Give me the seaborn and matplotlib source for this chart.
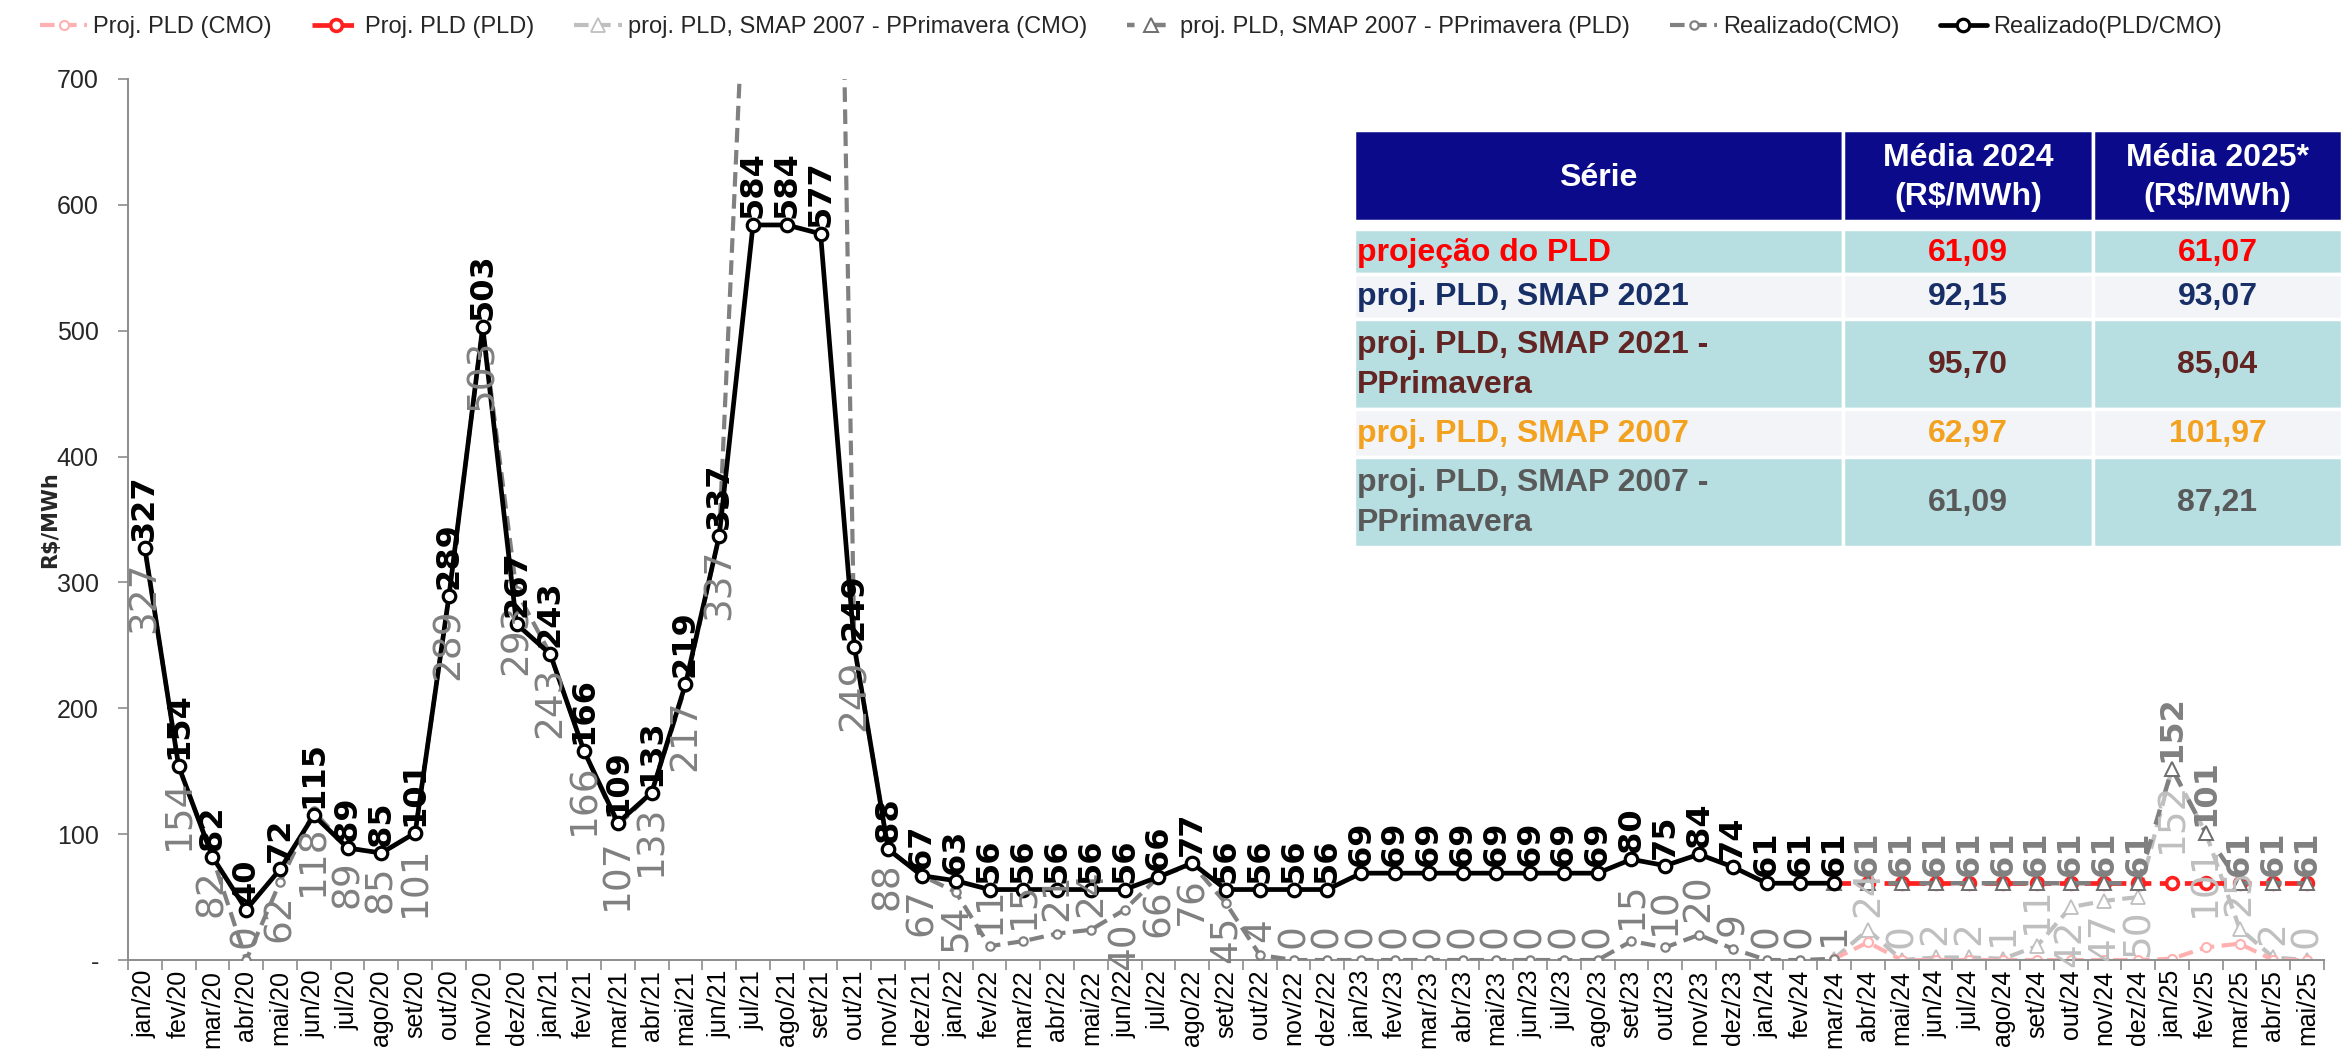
import numpy as np
import pandas as pd
import matplotlib
matplotlib.use("Agg")
import matplotlib.pyplot as plt
from matplotlib import font_manager
from matplotlib.patches import Rectangle
from matplotlib.ticker import FixedLocator, FixedFormatter
import seaborn as sns

# ---------------------------------------------------------------- dados
MESES = ["jan", "fev", "mar", "abr", "mai", "jun", "jul", "ago", "set", "out", "nov", "dez"]
ANOS = ["20", "21", "22", "23", "24", "25"]
categorias = [f"{m}/{a}" for a in ANOS for m in MESES][:65]

# Realizado, jan/20 a mar/24
realizado_pld_cmo = [327, 154, 82, 40, 72, 115, 89, 85, 101, 289, 503, 267,
                     243, 166, 109, 133, 219, 337, 584, 584, 577, 249, 88, 67,
                     63, 56, 56, 56, 56, 56, 66, 77, 56, 56, 56, 56,
                     69, 69, 69, 69, 69, 69, 69, 69, 80, 75, 84, 74,
                     61, 61, 61]
realizado_cmo = [327, 154, 82, 0, 62, 118, 89, 85, 101, 289, 503, 293,
                 243, 166, 107, 133, 217, 337, 940, 1400, 1800, 249, 88, 67,
                 54, 11, 15, 21, 24, 40, 66, 76, 45, 4, 0, 0,
                 0, 0, 0, 0, 0, 0, 0, 0, 15, 10, 20, 9,
                 0, 0, 1]

# Projeções, mar/24 a mai/25
inicio_proj = 50
proj_pld_pld = [61, 61, 61, 61, 61, 61, 61, 61, 61, 61, 61, 61, 61, 61, 61]
proj_pld_cmo = [1, 14, 0, 0, 0, 0, 0, 0, 0, 0, 1, 10, 13, 0, 0]
proj_s07pp_cmo = [1, 24, 0, 2, 2, 1, 11, 42, 47, 50, 152, 101, 25, 2, 0]
proj_s07pp_pld = [61, 61, 61, 61, 61, 61, 61, 61, 61, 61, 152, 101, 61, 61, 61]

y_ticks = [0, 100, 200, 300, 400, 500, 600, 700]
y_tick_labels = ["-", "100", "200", "300", "400", "500", "600", "700"]

# Tabela de médias
tab_series = ["projeção do PLD", "proj. PLD, SMAP 2021", "proj. PLD, SMAP 2021 -\nPPrimavera",
              "proj. PLD, SMAP 2007", "proj. PLD, SMAP 2007 -\nPPrimavera"]
tab_media_2024 = ["61,09", "92,15", "95,70", "62,97", "61,09"]
tab_media_2025 = ["61,07", "93,07", "85,04", "101,97", "87,21"]
tab_cabecalho = ["Série", "Média 2024\n(R$/MWh)", "Média 2025*\n(R$/MWh)"]
tab_cores_texto = ["#FF0000", "#172F66", "#632523", "#F2A21E", "#595959"]


# ---------------------------------------------------------------- fontes
def primeira_fonte(*nomes):
    for nome in nomes:
        try:
            font_manager.findfont(font_manager.FontProperties(family=nome),
                                  fallback_to_default=False)
            return nome
        except ValueError:
            continue
    return "DejaVu Sans"


sns.set_theme(style="white")
ESTREITA = primeira_fonte("Liberation Sans Narrow", "Liberation Sans")
plt.rcParams["font.family"] = ["DejaVu Sans"]

# ---------------------------------------------------------------- figura
fig = plt.figure(figsize=(23.48, 10.5), dpi=100)
ax = fig.add_axes([0.0545, 0.0857, 0.9353, 0.8391])

x_real = np.arange(len(realizado_pld_cmo))
x_proj = np.arange(inicio_proj, inicio_proj + len(proj_pld_pld))

CINZA = "#808080"
CINZA_CLARO = "#BFBFBF"
VERMELHO = "#FF2020"
ROSA = "#FFB0B0"


def linha(x, y, rotulo, cor, estilo, marcador, ms, mec, mew, lw, z):
    df = pd.DataFrame({"x": x, "y": y})
    sns.lineplot(data=df, x="x", y="y", ax=ax, color=cor, linestyle=estilo,
                 marker=marcador, markersize=ms, markerfacecolor="white",
                 markeredgecolor=mec, markeredgewidth=mew, linewidth=lw,
                 zorder=z, label=rotulo, errorbar=None)


linha(x_proj, proj_pld_cmo, "Proj. PLD (CMO)", ROSA, (0, (3.5, 1.8)), "o", 6.5, ROSA, 1.5, 3.0, 2.5)
linha(x_proj, proj_s07pp_cmo, "proj. PLD, SMAP 2007 - PPrimavera (CMO)", CINZA_CLARO,
      (0, (3.5, 1.8)), "^", 10, CINZA_CLARO, 1.3, 3.0, 2.2)
linha(x_proj, proj_pld_pld, "Proj. PLD (PLD)", VERMELHO, (0, (3.5, 1.8)), "o", 8.5, VERMELHO, 2.6, 3.4, 3)
linha(x_proj, proj_s07pp_pld, "proj. PLD, SMAP 2007 - PPrimavera (PLD)", CINZA,
      (1.8, (3.5, 3.5)), "^", 10.5, "#6E6E6E", 1.4, 3.2, 3.5)
linha(x_real, realizado_cmo, "Realizado(CMO)", CINZA, (0, (3.5, 1.8)), "o", 6, CINZA, 1.6, 3.0, 4)
linha(x_real, realizado_pld_cmo, "Realizado(PLD/CMO)", "black", "-", "o", 9, "black", 2.3, 3.4, 5)

if ax.get_legend() is not None:
    ax.get_legend().remove()


# ---------------------------------------------------------------- rótulos
def rotulos(x, y, cor, negrito, tamanho, posicao, pular=()):
    for i, (xi, yi) in enumerate(zip(x, y)):
        if i in pular or yi > 700:
            continue
        acima = posicao == "acima" or (posicao == "auto" and yi < 30)
        desloc = 5 if posicao == "acima" else 9
        ax.annotate(f"{yi:.0f}", (xi, yi), xytext=(0, desloc if acima else -desloc),
                    textcoords="offset points", rotation=90, ha="center",
                    va="bottom" if acima else "top", color=cor,
                    fontweight="bold" if negrito else "normal", fontsize=tamanho,
                    family="DejaVu Sans", zorder=10, annotation_clip=False)


rotulos(x_proj, proj_s07pp_cmo, CINZA_CLARO, False, 27, "auto", pular=(0,))
rotulos(x_real, realizado_cmo, CINZA, False, 27, "auto")
rotulos(x_proj, proj_s07pp_pld, CINZA, True, 23, "acima", pular=(0,))
rotulos(x_real, realizado_pld_cmo, "black", True, 23, "acima")

# ---------------------------------------------------------------- eixos
ax.set_xlim(-0.5, len(categorias) - 0.5)
ax.set_ylim(0, 700)
for lado in ("top", "right"):
    ax.spines[lado].set_visible(False)
for lado in ("left", "bottom"):
    ax.spines[lado].set_color("#8C8C8C")
    ax.spines[lado].set_linewidth(1.4)

ax.xaxis.set_major_locator(FixedLocator(np.arange(len(categorias))))
ax.xaxis.set_major_formatter(FixedFormatter(categorias))
ax.xaxis.set_minor_locator(FixedLocator(np.arange(len(categorias) + 1) - 0.5))
ax.tick_params(axis="x", which="major", length=0, pad=7, labelsize=18,
               labelrotation=90, colors="black")
ax.tick_params(axis="x", which="minor", length=7, width=1.2, color="#8C8C8C", bottom=True)
ax.yaxis.set_major_locator(FixedLocator(y_ticks))
ax.yaxis.set_major_formatter(FixedFormatter(y_tick_labels))
ax.tick_params(axis="y", length=7, width=1.2, color="#8C8C8C", left=True, pad=14,
               labelsize=18)
for t in ax.get_xticklabels() + ax.get_yticklabels():
    t.set_family(ESTREITA)
ax.grid(False)
ax.set_xlabel("")
ax.set_ylabel("R$/MWh", fontsize=15, fontweight="bold", family="DejaVu Sans")
ax.yaxis.set_label_coords(-0.031, 0.5)

# ---------------------------------------------------------------- legenda
handles, labels = ax.get_legend_handles_labels()
ordem = ["Proj. PLD (CMO)", "Proj. PLD (PLD)", "proj. PLD, SMAP 2007 - PPrimavera (CMO)",
         "proj. PLD, SMAP 2007 - PPrimavera (PLD)", "Realizado(CMO)", "Realizado(PLD/CMO)"]
mapa = dict(zip(labels, handles))
fig.legend([mapa[n] for n in ordem], ordem, loc="upper left", bbox_to_anchor=(0.008, 1.005),
           ncol=6, frameon=False, handlelength=2.0, handletextpad=0.25, columnspacing=1.7,
           prop=font_manager.FontProperties(family=ESTREITA, size=17))

# ---------------------------------------------------------------- tabela
W, H = 2348, 1050
t_esq, t_dir, t_top, t_base = 1354, 2342, 130, 547
tab = fig.add_axes([t_esq / W, 1 - t_base / H, (t_dir - t_esq) / W, (t_base - t_top) / H])
tab.set_xlim(0, t_dir - t_esq)
tab.set_ylim(t_base - t_top, 0)
tab.axis("off")

col_lim = [0, 489, 739, 988]
cab = (0, 91)
linhas = [(99, 144), (144, 189), (189, 279), (279, 327), (327, 417)]
fundos = ["#B7DEE1", "#F2F4F8", "#B7DEE1", "#F2F4F8", "#B7DEE1"]
fonte_tab = font_manager.FontProperties(family=ESTREITA, weight="bold", size=23)

for c in range(3):
    tab.add_patch(Rectangle((col_lim[c], cab[0]), col_lim[c + 1] - col_lim[c], cab[1] - cab[0],
                            facecolor="#0A0A8A", edgecolor="white", linewidth=2.5))
    tab.text((col_lim[c] + col_lim[c + 1]) / 2, (cab[0] + cab[1]) / 2 + 2, tab_cabecalho[c],
             ha="center", va="center", color="white", fontproperties=fonte_tab,
             linespacing=1.35)

for r, (y0, y1) in enumerate(linhas):
    for c in range(3):
        tab.add_patch(Rectangle((col_lim[c], y0), col_lim[c + 1] - col_lim[c], y1 - y0,
                                facecolor=fundos[r], edgecolor="white", linewidth=2.5))
    ym = (y0 + y1) / 2 + 1
    tab.text(3, ym, tab_series[r], ha="left", va="center", color=tab_cores_texto[r],
             fontproperties=fonte_tab, linespacing=1.45)
    tab.text((col_lim[1] + col_lim[2]) / 2, ym, tab_media_2024[r], ha="center", va="center",
             color=tab_cores_texto[r], fontproperties=fonte_tab)
    tab.text((col_lim[2] + col_lim[3]) / 2, ym, tab_media_2025[r], ha="center", va="center",
             color=tab_cores_texto[r], fontproperties=fonte_tab)

fig.savefig("out.png", dpi=100)
